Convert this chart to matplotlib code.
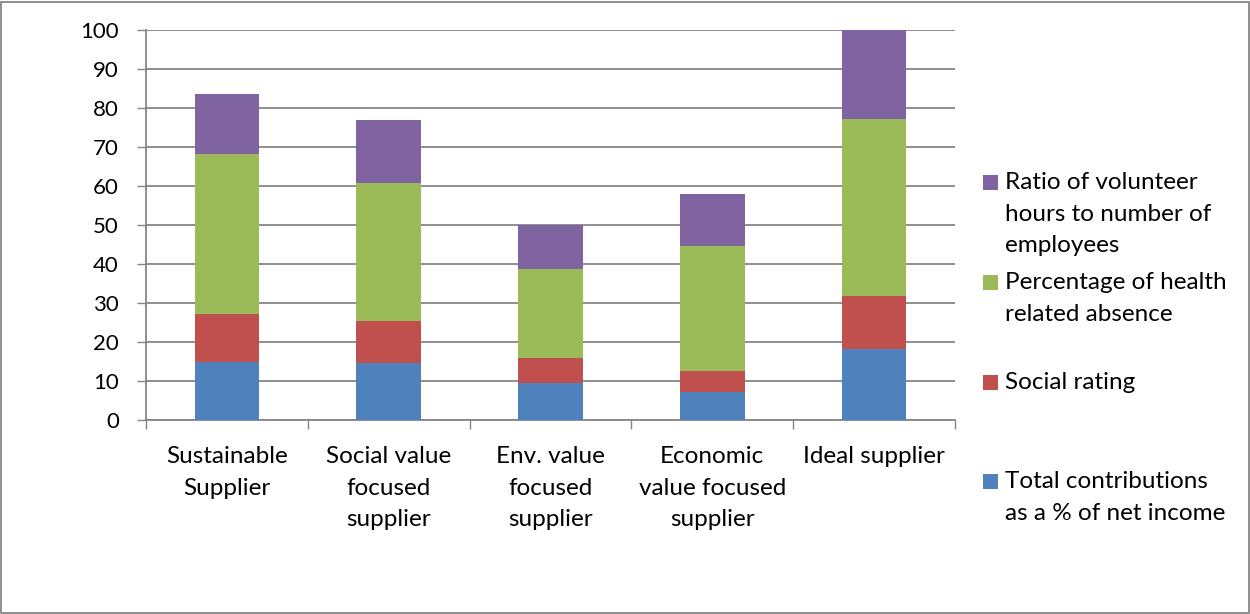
import matplotlib
matplotlib.use("Agg")
import matplotlib.pyplot as plt
from matplotlib.patches import Rectangle
import numpy as np

categories = ["Sustainable\nSupplier", "Social value\nfocused\nsupplier",
              "Env. value\nfocused\nsupplier", "Economic\nvalue focused\nsupplier",
              "Ideal supplier"]
contributions = [15.0, 14.5, 9.4, 7.2, 18.1]
social_rating = [12.2, 10.9, 6.5, 5.4, 13.6]
health_absence = [40.9, 35.4, 22.7, 31.9, 45.5]
volunteer_ratio = [15.5, 16.0, 11.4, 13.5, 22.8]

series_labels = ["Total contributions\nas a % of net income", "Social rating",
                 "Percentage of health\nrelated absence",
                 "Ratio of volunteer\nhours to number of\nemployees"]
series_colors = ["#4F81BD", "#C0504D", "#9BBB59", "#8064A2"]
yticks = list(range(0, 101, 10))

FONT = "Lato"
FS = 17.5
LS = 1.62
GRID = "#868686"

W, H = 1250, 614
fig = plt.figure(figsize=(W / 100, H / 100), dpi=100)
ax = fig.add_axes([146 / W, 1 - 420 / H, (955 - 146) / W, (420 - 30) / H])

x = np.arange(len(categories))
bottom = np.zeros(len(categories))
series = [contributions, social_rating, health_absence, volunteer_ratio]
for vals, col in zip(series, series_colors):
    ax.bar(x, vals, width=0.4, bottom=bottom, color=col, zorder=3)
    bottom += np.array(vals)

ax.set_xlim(-0.5, len(categories) - 0.5)
ax.set_ylim(0, 100)
ax.set_yticks(yticks)
ax.set_yticklabels([str(v) for v in yticks], fontname=FONT, fontsize=16)
ax.yaxis.grid(True, color=GRID, linewidth=1.3, zorder=0)
ax.tick_params(axis="y", length=6.5, width=1.0, color=GRID, pad=13)

ax.set_xticks(x)
ax.set_xticklabels(categories, fontname=FONT, fontsize=FS, linespacing=LS, va="top")
ax.set_xticks(np.arange(-0.5, len(categories)), minor=True)
ax.tick_params(axis="x", which="major", length=0, pad=19)
ax.tick_params(axis="x", which="minor", length=6.5, width=1.0, color=GRID)

for s in ["top", "right"]:
    ax.spines[s].set_visible(False)
for s in ["left", "bottom"]:
    ax.spines[s].set_color(GRID)
    ax.spines[s].set_linewidth(1.3)

# legend, drawn top entry first (stack order reversed)
legend_rows = [(182, 3), (282, 2), (382, 1), (481, 0)]
for ycen, idx in legend_rows:
    fig.patches.append(Rectangle(((983) / W, 1 - (ycen + 7.5) / H), 15 / W, 15 / H,
                                 transform=fig.transFigure, facecolor=series_colors[idx],
                                 edgecolor="none"))
    fig.text(1005 / W, 1 - (ycen - 10) / H, series_labels[idx], fontname=FONT,
             fontsize=FS, va="top", ha="left", linespacing=LS)

# chart-area border
fig.patches.append(Rectangle((1.5 / W, 1.5 / H), (W - 3) / W, (H - 3) / H,
                             transform=fig.transFigure, facecolor="none",
                             edgecolor=GRID, linewidth=1.3))

fig.savefig("out.png", dpi=100)
